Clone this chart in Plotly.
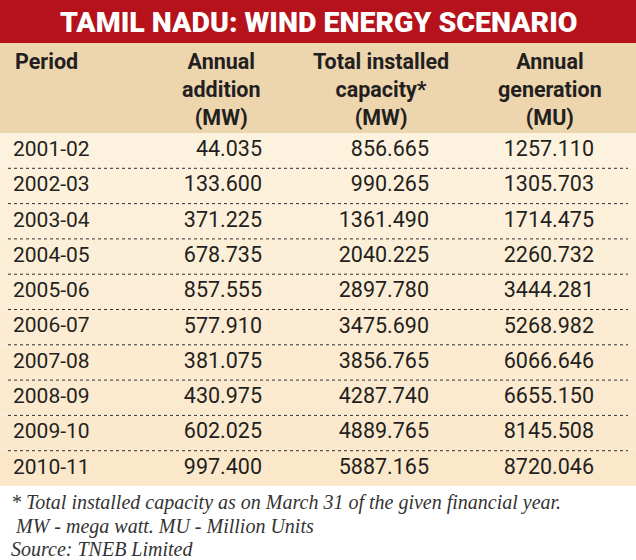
import plotly.graph_objects as go

# table data
periods = ["2001-02", "2002-03", "2003-04", "2004-05", "2005-06",
           "2006-07", "2007-08", "2008-09", "2009-10", "2010-11"]
annual_addition = [44.035, 133.600, 371.225, 678.735, 857.555,
                   577.910, 381.075, 430.975, 602.025, 997.400]
total_capacity = [856.665, 990.265, 1361.490, 2040.225, 2897.780,
                  3475.690, 3856.765, 4287.740, 4889.765, 5887.165]
annual_generation = [1257.110, 1305.703, 1714.475, 2260.732, 3444.281,
                     5268.982, 6066.646, 6655.150, 8145.508, 8720.046]

title = "TAMIL NADU: WIND ENERGY SCENARIO"
headers = ["Period", "Annual<br>addition<br>(MW)",
           "Total installed<br>capacity*<br>(MW)", "Annual<br>generation<br>(MU)"]
notes = ["* Total installed capacity as on March 31 of the given financial year.",
         " MW - mega watt. MU - Million Units",
         "Source: TNEB Limited"]

W, H = 636, 560
TITLE_BOTTOM = 43
HEAD_BOTTOM = 133
ROW_H = 35.3

RED = "#B5121B"
TAN = "#EDD5AE"
INK = "#231F20"

COND = "Roboto, Open Sans, sans-serif"
BODY = "Roboto, Open Sans, sans-serif"
SERIF = "Liberation Serif, DejaVu Serif, serif"

row_y = [HEAD_BOTTOM + ROW_H * (i + 0.5) for i in range(len(periods))]

fig = go.Figure()

shapes = [
    dict(type="rect", x0=0, x1=W, y0=0, y1=TITLE_BOTTOM, fillcolor=RED, line_width=0, layer="below"),
    dict(type="rect", x0=0, x1=W, y0=TITLE_BOTTOM, y1=HEAD_BOTTOM, fillcolor=TAN, line_width=0, layer="below"),
]
# body rows, slightly darker toward the bottom
top_c, bot_c = (253, 242, 222), (251, 232, 203)
for i in range(len(periods)):
    t = i / (len(periods) - 1)
    c = tuple(round(a + (b - a) * t) for a, b in zip(top_c, bot_c))
    shapes.append(dict(type="rect", x0=0, x1=W,
                       y0=HEAD_BOTTOM + ROW_H * i, y1=HEAD_BOTTOM + ROW_H * (i + 1),
                       fillcolor="rgb(%d,%d,%d)" % c, line_width=0, layer="below"))
# dotted separators
for i in range(1, len(periods)):
    y = HEAD_BOTTOM + ROW_H * i
    shapes.append(dict(type="line", x0=8, x1=628, y0=y, y1=y,
                       line=dict(color="#2e2e2e", width=1, dash="dot"), layer="above"))

# body text columns
fig.add_trace(go.Scatter(x=[13] * len(periods), y=row_y, text=periods, mode="text",
                         textposition="middle right",
                         textfont=dict(family=BODY, size=21, color=INK), hoverinfo="skip"))
for col_x, vals in [(262, annual_addition), (429, total_capacity), (594, annual_generation)]:
    fig.add_trace(go.Scatter(x=[col_x] * len(vals), y=row_y,
                             text=[f"{v:.3f}" for v in vals], mode="text",
                             textposition="middle left",
                             textfont=dict(family=BODY, size=21.5, color=INK), hoverinfo="skip"))

annotations = [
    dict(x=W / 2, y=TITLE_BOTTOM / 2 + 1, text=title, showarrow=False,
         xanchor="center", yanchor="middle",
         font=dict(family=COND, size=28.5, color="white", weight=900)),
    dict(x=13, y=47, text=headers[0], showarrow=False, xanchor="left", yanchor="top",
         font=dict(family=COND, size=21.5, color=INK, weight=700)),
]
for hx, htext in zip([221, 381, 550], headers[1:]):
    annotations.append(dict(x=hx, y=47, text=htext, showarrow=False,
                            xanchor="center", yanchor="top", align="center",
                            font=dict(family=COND, size=21.5, color=INK, weight=700)))
for ny, note in zip([502, 526, 549], notes):
    annotations.append(dict(x=9, y=ny, text="<i>" + note + "</i>", showarrow=False,
                            xanchor="left", yanchor="middle",
                            font=dict(family=SERIF, size=20, color="#333333")))

fig.update_layout(
    width=W, height=H,
    margin=dict(l=0, r=0, t=0, b=0),
    paper_bgcolor="white", plot_bgcolor="white",
    showlegend=False,
    xaxis=dict(range=[0, W], visible=False, fixedrange=True),
    yaxis=dict(range=[H, 0], visible=False, fixedrange=True),
    shapes=shapes,
    annotations=annotations,
)

# drop the browser's default page margin so the figure sits at the window corner
fig.write_html("out.html", config={"displayModeBar": False},
               post_script="document.body.style.margin='0';")
